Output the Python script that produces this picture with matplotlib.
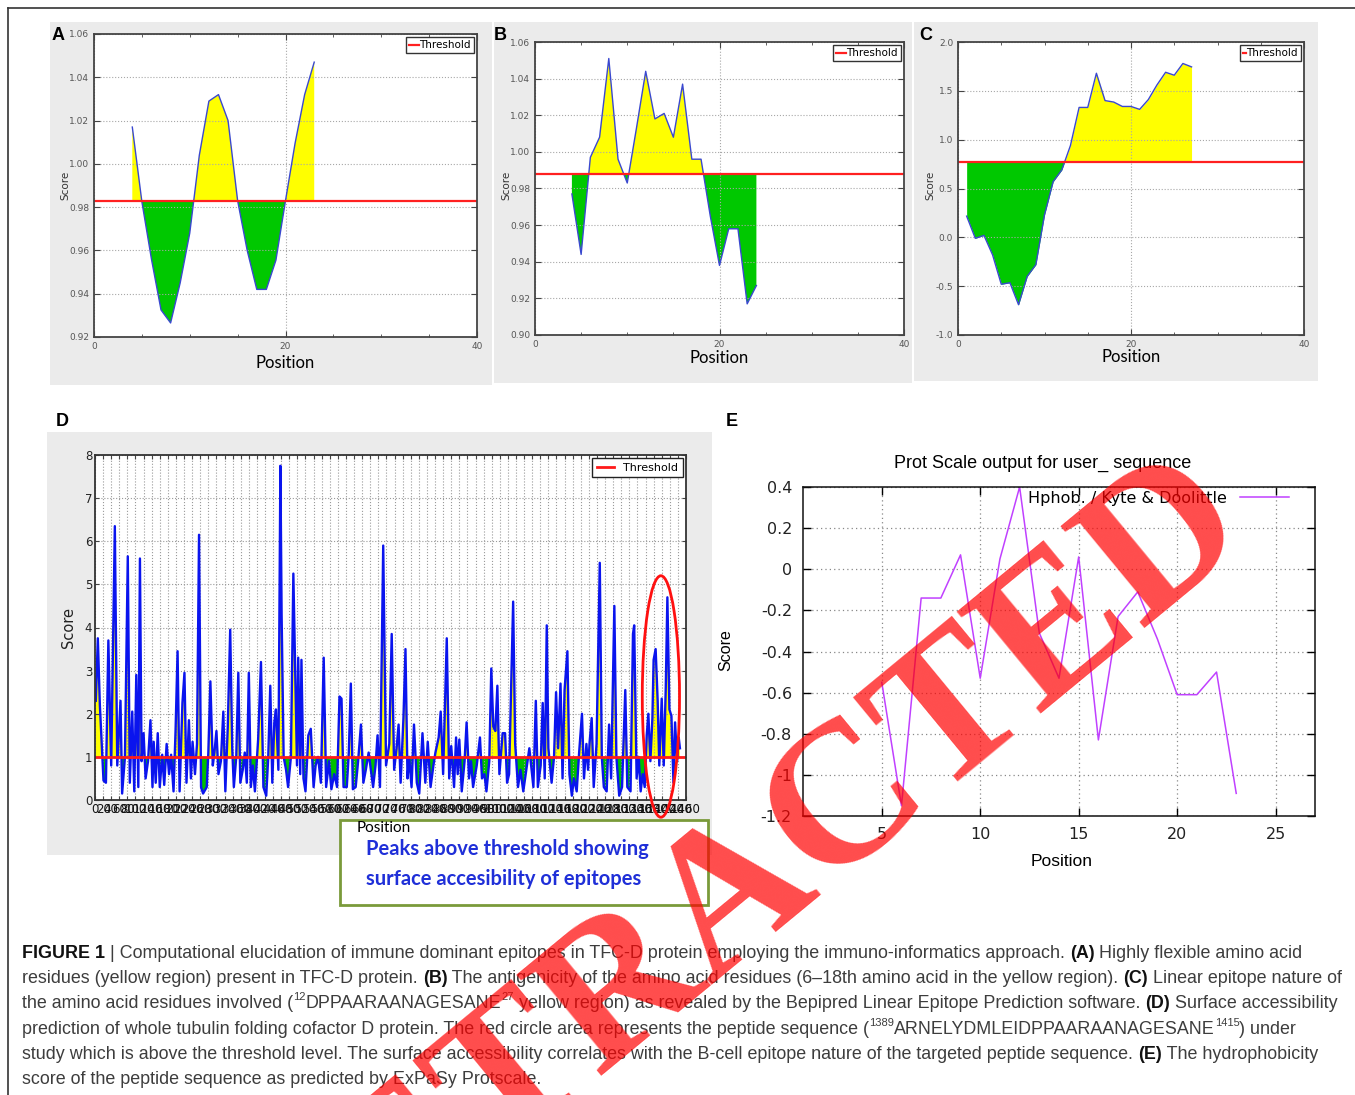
import numpy as np
import matplotlib
matplotlib.use("Agg")
import matplotlib.pyplot as plt
from matplotlib.patches import Rectangle, Ellipse
from matplotlib.ticker import FormatStrFormatter

plt.rcParams['axes.unicode_minus'] = False

W, H = 1355, 1095

# ---- panel A: flexibility
a_pos = list(range(4, 24))
a_score = [1.017, 0.9825, 0.956, 0.9325, 0.9265, 0.945, 0.968, 1.004, 1.029, 1.032,
           1.020, 0.983, 0.960, 0.942, 0.942, 0.9555, 0.983, 1.0095, 1.032, 1.047]
a_thr = 0.983

# ---- panel B: antigenicity
b_pos = list(range(4, 25))
b_score = [0.977, 0.944, 0.997, 1.008, 1.051, 0.996, 0.983, 1.013, 1.044, 1.018, 1.021,
           1.008, 1.037, 0.996, 0.996, 0.965, 0.938, 0.958, 0.958, 0.917, 0.927]
b_thr = 0.988

# ---- panel C: bepipred
c_pos = list(range(1, 28))
c_score = [0.217, -0.01, 0.02, -0.18, -0.48, -0.465, -0.69, -0.40, -0.28, 0.23, 0.57,
           0.69, 0.94, 1.33, 1.33, 1.68, 1.40, 1.385, 1.34, 1.34, 1.31, 1.41, 1.56,
           1.69, 1.66, 1.78, 1.745]
c_thr = 0.775

# ---- panel D: surface accessibility (peaks and troughs)
d_pos = [2, 7, 12, 21, 27, 33, 40, 49, 55, 63, 67, 74, 81, 86, 92, 97, 102, 107, 111, 115,
         120, 125, 131, 137, 142, 145, 150, 155, 160, 166, 171, 177, 183, 188, 194, 199,
         204, 209, 216, 221, 226, 232, 237, 241, 247, 252, 257, 262, 267, 276, 280, 285,
         291, 295, 300, 305, 311, 317, 322, 328, 334, 339, 343, 349, 354, 359, 365, 370,
         375, 380, 385, 390, 395, 403, 410, 416, 423, 428, 433, 438, 443, 447, 453, 458,
         461, 466, 472, 477, 484, 490, 495, 499, 502, 507, 510, 515, 520, 527, 533, 540,
         545, 551, 558, 565, 571, 578, 584, 591, 598, 604, 609, 614, 622, 627, 632, 637,
         644, 650, 657, 663, 669, 676, 687, 693, 698, 704, 712,
         719, 727, 733, 739, 745, 750, 755, 762, 767, 772, 776, 782, 788, 795, 801, 809,
         816, 822, 829, 836, 841, 849, 854, 860, 869, 875, 880, 887, 892, 896, 900, 906,
         913, 918, 924, 929, 934, 943, 951, 956, 962, 967, 974, 979, 984, 989, 994, 999,
         1007, 1013, 1018, 1023, 1028, 1033, 1038, 1045, 1051, 1058, 1064, 1073, 1083,
         1089, 1094, 1101, 1106, 1111, 1116, 1120, 1128, 1134, 1139, 1144, 1150, 1155,
         1160, 1167, 1172, 1178, 1183, 1190, 1196, 1203, 1208, 1214, 1218, 1222, 1227,
         1232, 1239, 1247, 1252, 1257, 1264, 1270, 1275, 1283, 1288, 1295, 1302, 1310,
         1315, 1323, 1329, 1332, 1338, 1343, 1348, 1353, 1358, 1363, 1367, 1372, 1377,
         1380, 1385, 1390, 1394, 1400, 1405, 1410, 1414, 1419, 1424, 1429, 1433, 1438,
         1442, 1445]
d_score = [2.3, 3.75, 2.2, 0.45, 0.4, 3.7, 0.8, 6.35, 0.8, 2.3, 0.15, 1.0, 5.65, 0.4, 2.05,
           0.2, 2.9, 0.3, 5.6, 0.9, 1.55, 0.5, 0.9, 1.85, 0.3, 1.35, 0.4, 1.55, 0.3, 1.05,
           0.35, 1.3, 0.6, 1.05, 0.2, 1.6, 3.45, 0.2, 2.25, 2.95, 0.4, 1.85, 0.5, 1.35, 0.6,
           1.3, 6.15, 0.3, 0.15, 0.3, 1.1, 2.75, 0.8, 1.1, 1.6, 0.6, 0.9, 2.05, 0.2, 1.7,
           3.95, 1.2, 0.3, 1.0, 2.95, 0.4, 0.7, 1.1, 0.4, 2.95, 0.3, 0.8, 0.2, 1.4, 3.2,
           0.3, 0.1, 1.0, 2.65, 0.4, 1.8, 2.1, 0.7, 7.75, 4.3, 1.0, 0.7, 0.3, 1.0, 5.25,
           2.8, 0.8, 3.3, 0.6, 3.25, 0.5, 0.2, 1.5, 1.65, 0.3, 0.8, 1.0, 0.4, 3.3, 0.3, 0.9,
           0.25, 0.6, 0.3, 2.4, 2.35, 0.3, 0.3, 1.1, 2.7, 0.25, 0.3, 0.9, 1.75, 0.4, 0.7,
           1.1, 0.3, 0.8, 1.5, 0.3, 5.9,
           0.8, 1.3, 3.85, 0.7, 1.2, 1.75, 0.4, 1.9, 3.5, 0.5, 1.0, 0.3, 1.75, 0.4, 0.15,
           1.55, 0.4, 1.35, 0.3, 0.8, 1.1, 1.45, 2.05, 0.6, 3.75, 0.5, 1.25, 0.3, 1.45, 0.6,
           1.4, 0.2, 0.9, 1.8, 0.5, 0.9, 0.3, 0.8, 1.45, 0.5, 0.6, 0.2, 0.9, 3.05, 1.7, 1.6,
           2.65, 0.6, 1.55, 1.55, 0.4, 0.6, 2.6, 4.6, 1.3, 0.3, 0.7, 0.2, 0.6, 1.2, 0.3,
           2.3, 0.3, 0.8, 2.25, 0.5, 4.05, 1.2, 0.4, 1.0, 2.5, 1.2, 2.7, 0.5, 2.55, 3.45,
           0.6, 0.1, 0.5, 0.2, 1.1, 2.0, 0.5, 1.3, 0.7, 1.35, 1.9, 0.3, 1.3, 5.5, 1.0, 0.3,
           0.2, 1.75, 0.5, 4.5, 1.0, 0.1, 0.3, 2.55, 0.3, 0.2, 3.85, 4.05, 0.5, 1.0, 0.2,
           0.6, 0.3, 1.5, 2.0, 0.9, 1.9, 3.25, 3.5, 2.3, 0.8, 2.35, 0.8, 2.6, 4.7, 2.1,
           1.95, 0.4, 1.8, 0.9, 1.45, 1.2]
d_thr = 1.0

# ---- panel E: Kyte & Doolittle hydrophobicity
e_pos = list(range(5, 24))
e_score = [-0.55, -1.15, -0.14, -0.14, 0.07, -0.53, 0.05, 0.40, -0.31, -0.53, 0.06,
           -0.83, -0.23, -0.11, -0.34, -0.61, -0.61, -0.50, -1.09]

caption = [
    [("FIGURE 1", "b"), (" | Computational elucidation of immune dominant epitopes in TFC-D protein "
     "employing the immuno-informatics approach. ", "n"), ("(A)", "b"),
     (" Highly flexible amino acid", "n")],
    [("residues (yellow region) present in TFC-D protein. ", "n"), ("(B)", "b"),
     (" The antigenicity of the amino acid residues (6\u201318th amino acid in the yellow region). ", "n"),
     ("(C)", "b"), (" Linear epitope nature of", "n")],
    [("the amino acid residues involved (", "n"), ("12", "s"), ("DPPAARAANAGESANE", "n"), ("27", "s"),
     (" yellow region) as revealed by the Bepipred Linear Epitope Prediction software. ", "n"),
     ("(D)", "b"), (" Surface accessibility", "n")],
    [("prediction of whole tubulin folding cofactor D protein. The red circle area represents "
      "the peptide sequence (", "n"), ("1389", "s"), ("ARNELYDMLEIDPPAARAANAGESANE", "n"),
     ("1415", "s"), (") under", "n")],
    [("study which is above the threshold level. The surface accessibility correlates with the "
      "B-cell epitope nature of the targeted peptide sequence. ", "n"), ("(E)", "b"),
     (" The hydrophobicity", "n")],
    [("score of the peptide sequence as predicted by ExPaSy Protscale.", "n")],
]

fig = plt.figure(figsize=(W / 100, H / 100), dpi=100)
fig.patch.set_facecolor("white")


def frac(l, t, r, b):
    return [l / W, 1 - b / H, (r - l) / W, (b - t) / H]


def ftext(x, y, s, **kw):
    return fig.text(x / W, 1 - y / H, s, **kw)


def box(l, t, r, b, fc="#ebebeb", ec="none", lw=0, z=-5):
    fig.patches.append(Rectangle((l / W, 1 - b / H), (r - l) / W, (b - t) / H,
                                 transform=fig.transFigure, facecolor=fc, edgecolor=ec,
                                 linewidth=lw, zorder=z))


# outer frame lines and grey panel backgrounds
fig.add_artist(plt.Line2D([8 / W, 1], [1 - 8 / H, 1 - 8 / H], color="#333333", lw=1.2))
fig.add_artist(plt.Line2D([8 / W, 8 / W], [0, 1 - 8 / H], color="#333333", lw=1.2))
box(50, 22, 492, 385)
box(494, 22, 912, 383)
box(914, 22, 1318, 381)
box(47, 432, 712, 855)


def profile(rect, pos, score, thr, ylim, yticks, fmt, hlen, label_xy, pos_y):
    ax = fig.add_axes(frac(*rect))
    pos = np.array(pos, dtype=float)
    score = np.array(score)
    ax.fill_between(pos, score, thr, where=score >= thr, interpolate=True, color="#ffff00", lw=0)
    ax.fill_between(pos, score, thr, where=score <= thr, interpolate=True, color="#00c800", lw=0)
    ax.plot(pos, score, color="#3a48d0", lw=1.0)
    ax.axhline(thr, color="#ff2020", lw=1.6, label="Threshold")
    ax.set_xlim(0, 40)
    ax.set_ylim(*ylim)
    ax.set_xticks([0, 20, 40])
    ax.set_xticks(range(0, 41, 5), minor=True)
    ax.set_yticks(yticks)
    ax.yaxis.set_major_formatter(FormatStrFormatter(fmt))
    ax.grid(True, ls=":", color="#a8a8a8", lw=0.8)
    ax.tick_params(direction="in", top=True, right=True, labelsize=6.5,
                   labelcolor="#555555", color="#444444", length=4)
    ax.tick_params(which="minor", direction="in", top=True, right=True, length=2.5,
                   color="#444444")
    for s in ax.spines.values():
        s.set_color("#444444")
        s.set_linewidth(1.3)
    ax.legend(loc="upper right", fontsize=7.5, handlelength=hlen, handletextpad=0.05,
              fancybox=False, edgecolor="#333333", borderpad=0.3, framealpha=1,
              borderaxespad=0.3)
    cx = (rect[0] + rect[2]) / 2
    ftext(label_xy[0], label_xy[1], "Score", rotation=90, fontsize=7.5, color="#333333",
          ha="center", va="center")
    ftext(cx, pos_y, "Position", fontsize=12, family="Lato", ha="center", va="center")
    return ax


profile((94, 34, 477, 337), a_pos, a_score, a_thr, (0.92, 1.06),
        np.arange(0.92, 1.061, 0.02), "%.2f", 0.9, (65, 185), 363)
profile((535, 42, 904, 335), b_pos, b_score, b_thr, (0.90, 1.06),
        np.arange(0.90, 1.061, 0.02), "%.2f", 0.9, (506, 185), 358)
profile((958, 42, 1304, 335), c_pos, c_score, c_thr, (-1.0, 2.0),
        np.arange(-1.0, 2.01, 0.5), "%.1f", 0.25, (930, 185), 357)

for lab, x, y in [("A", 58, 35), ("B", 500, 35), ("C", 926, 35), ("D", 62, 421), ("E", 732, 421)]:
    ftext(x, y, lab, fontsize=13, weight="bold", family="Liberation Sans", ha="center",
          va="center")

# ---- panel D
axd = fig.add_axes(frac(95, 455, 686, 800))
dp = np.array(d_pos, dtype=float)
ds = np.array(d_score)
axd.fill_between(dp, ds, d_thr, where=ds >= d_thr, interpolate=True, color="#ffff00", lw=0)
axd.fill_between(dp, ds, d_thr, where=ds <= d_thr, interpolate=True, color="#00c000", lw=0)
axd.plot(dp, ds, color="#0a14ee", lw=1.7)
axd.axhline(d_thr, color="#ff1a1a", lw=2.0, label="Threshold")
axd.set_xlim(0, 1460)
axd.set_ylim(0, 8)
d_xticks = list(range(0, 1461, 20))
axd.set_xticks(d_xticks)
axd.set_xticklabels([str(v) for v in d_xticks], fontsize=8.5, color="#111111")
axd.set_yticks(range(0, 9))
axd.grid(True, ls=":", color="#9a9a9a", lw=0.8)
axd.tick_params(direction="in", top=True, right=True, length=3, color="#444444", pad=2)
axd.tick_params(axis="y", labelsize=8.5, labelcolor="#222222")
for s in axd.spines.values():
    s.set_color("#333333")
    s.set_linewidth(1.3)
axd.legend(loc="upper right", fontsize=8, handlelength=1.6, fancybox=False,
           edgecolor="#222222", framealpha=1, borderaxespad=0.3)
axd.add_patch(Ellipse((1398, 2.4), 92, 5.6, fill=False, edgecolor="#ff1010", lw=2.0,
                      clip_on=False, zorder=6))
ftext(68, 627, "Score", rotation=90, fontsize=10.5, color="#222222", ha="center", va="center")

# annotation box under panel D
box(340, 820, 708, 905, fc="white", ec="#7a9a3a", lw=2.0, z=3)
ftext(357, 828, "Position", fontsize=11, family="Lato", ha="left", va="center", zorder=4)
ftext(366, 849, "Peaks above threshold showing", fontsize=14.5, family="Lato",
      weight="bold", color="#1f2fd8", ha="left", va="center", zorder=4)
ftext(366, 879, "surface accesibility of epitopes", fontsize=14.5, family="Lato",
      weight="bold", color="#1f2fd8", ha="left", va="center", zorder=4)

# ---- panel E
axe = fig.add_axes(frac(803, 487, 1315, 816))
axe.plot(e_pos, e_score, color="#c040ff", lw=1.1, label="Hphob. / Kyte & Doolittle")
axe.set_xlim(1, 27)
axe.set_ylim(-1.2, 0.4)
axe.set_xticks([5, 10, 15, 20, 25])
e_yt = [0.4, 0.2, 0, -0.2, -0.4, -0.6, -0.8, -1, -1.2]
axe.set_yticks(e_yt)
axe.set_yticklabels(["0.4", "0.2", "0", "-0.2", "-0.4", "-0.6", "-0.8", "-1", "-1.2"])
axe.grid(True, ls=(0, (1, 2.5)), color="#888888", lw=0.9)
axe.tick_params(direction="in", top=True, right=True, length=6, labelsize=11.5,
                labelcolor="#222222", pad=8, width=1.0)
for s in axe.spines.values():
    s.set_color("#111111")
    s.set_linewidth(1.1)
axe.legend(loc="upper right", markerfirst=False, frameon=False, fontsize=11.5,
           handlelength=3.1, handletextpad=0.8, borderaxespad=0.1,
           bbox_to_anchor=(0.965, 1.012))
ftext(1043, 463, "Prot Scale output for user_ sequence", fontsize=13, family="Liberation Sans",
      ha="center", va="center")
ftext(726, 650, "Score", rotation=90, fontsize=11.5, family="Liberation Sans", ha="center",
      va="center")
ftext(1062, 861, "Position", fontsize=12.5, family="Liberation Sans", ha="center", va="center")

# ---- caption with bold labels and superscripts
renderer = fig.canvas.get_renderer()


def text_width(s, size, weight):
    t = fig.text(0, 0, s + "|", fontsize=size, family="Liberation Sans", weight=weight)
    bar = fig.text(0, 0, "|", fontsize=size, family="Liberation Sans", weight=weight)
    w = t.get_window_extent(renderer).width - bar.get_window_extent(renderer).width
    t.remove()
    bar.remove()
    return w


def line_width(parts, size):
    total = 0
    for s, kind in parts:
        sz = size * 0.62 if kind == "s" else size
        total += text_width(s, sz, "bold" if kind == "b" else "normal")
    return total


cap_size = 12.0 * (1303 - 22) / line_width(caption[0], 12.0)

for i, parts in enumerate(caption):
    x = 22
    base = 958 + i * 25.2
    for s, kind in parts:
        sz = cap_size * 0.62 if kind == "s" else cap_size
        wt = "bold" if kind == "b" else "normal"
        col = "#111111" if kind == "b" else "#3d3d3d"
        yy = base - (cap_size * 0.45 / 0.72 if kind == "s" else 0)
        ftext(x, yy, s, fontsize=sz, family="Liberation Sans", weight=wt, color=col,
              ha="left", va="baseline")
        x += text_width(s, sz, wt)

# ---- retraction stamp
ftext(735, 900, "RETRACTED", fontsize=145, family="Liberation Serif", weight="bold",
      color="#ff0000", alpha=0.7, rotation=39.5, rotation_mode="anchor", ha="center",
      va="center", zorder=50)

fig.savefig("out.png", dpi=100)
